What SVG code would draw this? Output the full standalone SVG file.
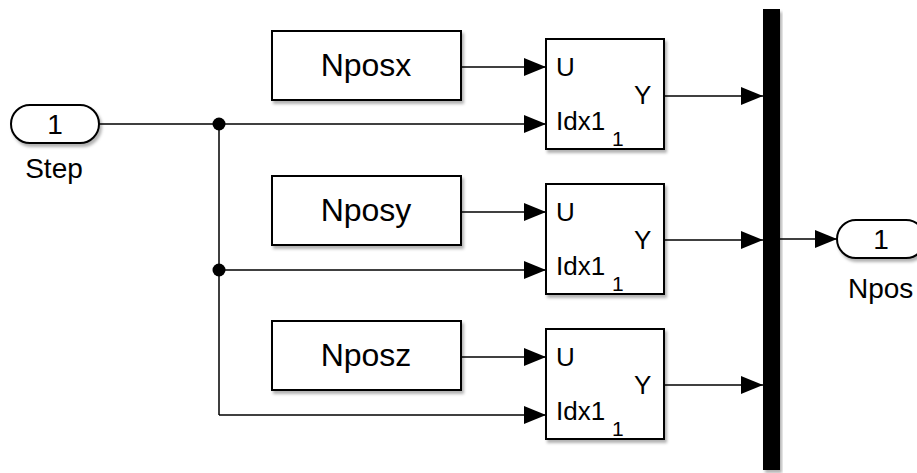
<svg xmlns="http://www.w3.org/2000/svg" width="917" height="473" viewBox="0 0 917 473">
  <style>
    text { font-family: "Liberation Sans", Arial, Helvetica, sans-serif; fill: #000; }
    .blk { fill: #fff; stroke: #000; stroke-width: 2; filter: url(#shadow); }
    .port { fill: #fff; stroke: #000; stroke-width: 2; filter: url(#shadow); }
    .name { font-size: 32px; text-anchor: middle; }
    .pin { font-size: 26px; }
    .sub { font-size: 21px; }
    .lbl { font-size: 28px; text-anchor: middle; }
    .wire { fill: none; stroke: #000; stroke-width: 1.5; marker-end: url(#arrow); }
    .plain { fill: none; stroke: #000; stroke-width: 1.5; }
  </style>
  <defs>
    <filter id="shadow" x="-10%" y="-10%" width="125%" height="130%">
      <feDropShadow dx="2" dy="3" stdDeviation="1.5" flood-color="#000" flood-opacity="0.3"/>
    </filter>
    <marker id="arrow" markerWidth="22" markerHeight="18" refX="22" refY="9" orient="auto" markerUnits="userSpaceOnUse">
      <path d="M0,0 L22,9 L0,18 Z" fill="#000"/>
    </marker>
  </defs>

  <!-- signal lines -->
  <g id="connectors">
    <path class="plain" d="M99,124 H219 V415"/>
    <path class="wire" d="M219,124 H546"/>
    <path class="wire" d="M219,270 H546"/>
    <path class="wire" d="M219,415 H546"/>
    <path class="wire" d="M461,67 H546"/>
    <path class="wire" d="M461,212 H546"/>
    <path class="wire" d="M461,357 H546"/>
    <path class="wire" d="M664,96 H763"/>
    <path class="wire" d="M664,240 H763"/>
    <path class="wire" d="M664,385 H763"/>
    <path class="wire" d="M780,239 H837"/>
    <circle cx="219" cy="124" r="6.5" fill="#000"/>
    <circle cx="219" cy="270" r="6.5" fill="#000"/>
  </g>

  <!-- inport Step -->
  <g id="in-step">
    <rect class="port" x="11" y="105" width="88" height="38" rx="19"/>
    <text class="lbl" x="55" y="134">1</text>
    <text class="lbl" x="54" y="178">Step</text>
  </g>

  <!-- constants -->
  <g id="const-nposx">
    <rect class="blk" x="272" y="31" width="189" height="69"/>
    <text class="name" x="366" y="76">Nposx</text>
  </g>
  <g id="const-nposy">
    <rect class="blk" x="272" y="176" width="189" height="69"/>
    <text class="name" x="366" y="221">Nposy</text>
  </g>
  <g id="const-nposz">
    <rect class="blk" x="272" y="321" width="189" height="69"/>
    <text class="name" x="366" y="366">Nposz</text>
  </g>

  <!-- selectors -->
  <g id="sel-x">
    <rect class="blk" x="546" y="39" width="118" height="110"/>
    <text class="pin" x="556" y="76">U</text>
    <text class="pin" x="634" y="104">Y</text>
    <text class="pin" x="556" y="130">Idx1</text>
    <text class="sub" x="612" y="146">1</text>
  </g>
  <g id="sel-y">
    <rect class="blk" x="546" y="184" width="118" height="110"/>
    <text class="pin" x="556" y="221">U</text>
    <text class="pin" x="634" y="249">Y</text>
    <text class="pin" x="556" y="275">Idx1</text>
    <text class="sub" x="612" y="291">1</text>
  </g>
  <g id="sel-z">
    <rect class="blk" x="546" y="329" width="118" height="110"/>
    <text class="pin" x="556" y="366">U</text>
    <text class="pin" x="634" y="394">Y</text>
    <text class="pin" x="556" y="420">Idx1</text>
    <text class="sub" x="612" y="436">1</text>
  </g>

  <!-- mux bus bar -->
  <g id="mux">
    <rect x="763" y="9" width="17" height="461" fill="#000" filter="url(#shadow)"/>
  </g>

  <!-- outport Npos -->
  <g id="out-npos">
    <rect class="port" x="837" y="220" width="88" height="38" rx="19"/>
    <text class="lbl" x="881" y="249">1</text>
    <text x="848" y="298" style="font-size:28px">Npos</text>
  </g>
</svg>
